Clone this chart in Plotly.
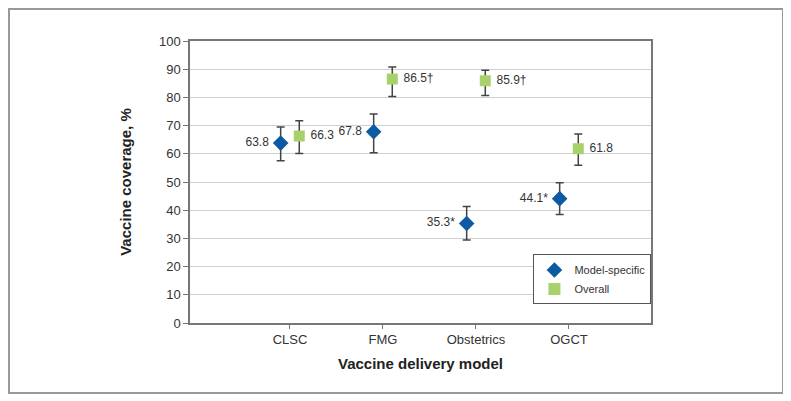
import plotly.graph_objects as go

categories = ["CLSC", "FMG", "Obstetrics", "OGCT"]
model_values = [63.8, 67.8, 35.3, 44.1]
model_upper = [69.5, 74.1, 41.3, 49.7]
model_lower = [57.5, 60.4, 29.4, 38.5]
model_labels = ["63.8", "67.8", "35.3*", "44.1*"]
overall_values = [66.3, 86.5, 85.9, 61.8]
overall_upper = [71.7, 90.8, 89.6, 67.0]
overall_lower = [60.1, 80.3, 80.7, 55.9]
overall_labels = ["66.3", "86.5†", "85.9†", "61.8"]
y_ticks = list(range(0, 101, 10))

idx = list(range(len(categories)))
off = 0.1

FONT = "Liberation Sans, Arial, sans-serif"
BLUE = "#0b5aa2"
GREEN = "#a8d16c"
ERR = "#444444"

# page body has an 8px margin; figure sized to fit the window
W, H = 783, 393
L, T = 182, 33
PW, PH = 461, 282

fig = go.Figure()
fig.add_trace(go.Scatter(
    x=[i - off for i in idx], y=model_values, mode="markers+text",
    name="Model-specific",
    marker=dict(symbol="diamond", size=12, color=BLUE),
    text=[t + " " for t in model_labels], textposition="middle left",
    textfont=dict(family=FONT, size=12, color="#333"),
    error_y=dict(type="data", symmetric=False,
                 array=[u - v for u, v in zip(model_upper, model_values)],
                 arrayminus=[v - l for v, l in zip(model_values, model_lower)],
                 color=ERR, thickness=1.5, width=4),
))
fig.add_trace(go.Scatter(
    x=[i + off for i in idx], y=overall_values, mode="markers+text",
    name="Overall",
    marker=dict(symbol="square", size=11, color=GREEN),
    text=[" " + t for t in overall_labels], textposition="middle right",
    textfont=dict(family=FONT, size=12, color="#333"),
    error_y=dict(type="data", symmetric=False,
                 array=[u - v for u, v in zip(overall_upper, overall_values)],
                 arrayminus=[v - l for v, l in zip(overall_values, overall_lower)],
                 color=ERR, thickness=1.5, width=4),
))

fig.update_layout(
    width=W, height=H,
    margin=dict(l=L, r=W - L - PW, t=T, b=H - T - PH),
    paper_bgcolor="white", plot_bgcolor="white",
    font=dict(family=FONT, size=13, color="#333"),
    showlegend=True,
    legend=dict(x=0.745, y=0.243, xanchor="left", yanchor="top",
                bgcolor="white", bordercolor="#555", borderwidth=1,
                font=dict(family=FONT, size=11, color="#333"),
                itemsizing="constant", tracegroupgap=2),
    xaxis=dict(
        range=[-1.075, 3.882], tickmode="array", tickvals=idx, ticktext=categories,
        showgrid=False, zeroline=False, showline=True, linecolor="#777", linewidth=1.5,
        mirror=True, ticks="outside", ticklen=4, tickcolor="#777",
        tickfont=dict(family=FONT, size=13, color="#333"),
        title=dict(text="<b>Vaccine delivery model</b>", standoff=12,
                   font=dict(family=FONT, size=15, color="#222")),
    ),
    yaxis=dict(
        range=[0, 100], tickmode="array", tickvals=y_ticks,
        showgrid=True, gridcolor="#cfcfcf", gridwidth=1, zeroline=False,
        showline=True, linecolor="#777", linewidth=1.5, mirror=True,
        ticks="outside", ticklen=5, tickcolor="#777",
        tickfont=dict(family=FONT, size=13, color="#333"),
        title=dict(text="<b>Vaccine coverage, %</b>", standoff=24,
                   font=dict(family=FONT, size=15, color="#222")),
    ),
    shapes=[dict(type="rect", xref="paper", yref="paper",
                 x0=(1 - L) / PW, x1=(775 - L) / PW,
                 y0=(T + PH - 385) / PH, y1=(T + PH - 1) / PH,
                 line=dict(color="#999", width=2), layer="below")],
)

fig.write_html("out.html")
